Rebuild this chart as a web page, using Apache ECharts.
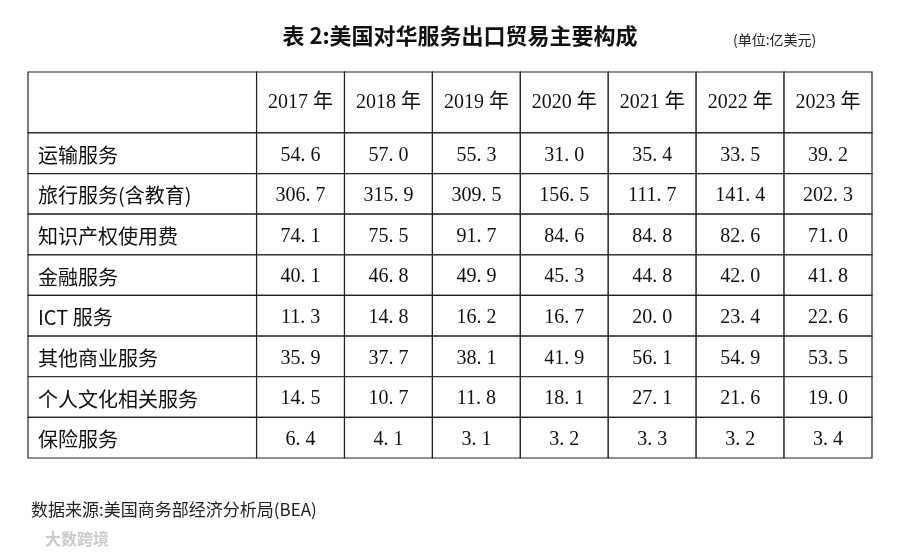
<!DOCTYPE html>
<html><head><meta charset="utf-8">
<script src="https://cdn.jsdelivr.net/npm/echarts@6/dist/echarts.min.js"></script>
<style>html,body{margin:0;padding:0;background:#fff}#c{width:900px;height:553px}</style>
</head><body><div id="c"></div>
<script>
const years = ['2017 年','2018 年','2019 年','2020 年','2021 年','2022 年','2023 年'];
const categories = ['运输服务','旅行服务(含教育)','知识产权使用费','金融服务','ICT 服务','其他商业服务','个人文化相关服务','保险服务'];
const v2017 = [54.6,306.7,74.1,40.1,11.3,35.9,14.5,6.4];
const v2018 = [57.0,315.9,75.5,46.8,14.8,37.7,10.7,4.1];
const v2019 = [55.3,309.5,91.7,49.9,16.2,38.1,11.8,3.1];
const v2020 = [31.0,156.5,84.6,45.3,16.7,41.9,18.1,3.2];
const v2021 = [35.4,111.7,84.8,44.8,20.0,56.1,27.1,3.3];
const v2022 = [33.5,141.4,82.6,42.0,23.4,54.9,21.6,3.2];
const v2023 = [39.2,202.3,71.0,41.8,22.6,53.5,19.0,3.4];
const seriesValues = [v2017,v2018,v2019,v2020,v2021,v2022,v2023];

const FIRST = 2.6, HEAD = 1.5;
const cells = [];
cells.push([0,0,'']);
years.forEach((y,i)=>cells.push([i+1,0,y]));
categories.forEach((c,r)=>{
  cells.push([0,r+1,c]);
  seriesValues.forEach((vals,i)=>cells.push([i+1,r+1,vals[r].toFixed(1).replace('.','. ')]));
});
const chart = echarts.init(document.getElementById('c'));
chart.setOption({
  animation:false,
  title:[
    {text:'表 2:美国对华服务出口贸易主要构成',left:455,top:20,textAlign:'center',
     textStyle:{fontFamily:'Noto Sans CJK SC',fontWeight:'bold',fontSize:22,color:'#111'}},
    {text:'(单位:亿美元)',left:728,top:28,textStyle:{fontFamily:'Noto Sans CJK SC',fontWeight:'normal',fontSize:14,color:'#222'}},
    {text:'数据来源:美国商务部经济分析局(BEA)',left:26,top:496,textStyle:{fontFamily:'Noto Sans CJK SC',fontWeight:'normal',fontSize:17,color:'#222'}},
    {text:'大数跨境',left:40,top:526,textStyle:{fontFamily:'Noto Sans CJK SC',fontWeight:'bold',fontSize:16,color:'#ccc'}}
  ],
  grid:{left:28,right:28,top:72,bottom:95},
  xAxis:{type:'value',min:0,max:FIRST+7,show:false},
  yAxis:{type:'value',min:0,max:HEAD+8,inverse:true,show:false},
  series:[{
    type:'custom',
    data:cells,
    renderItem:(params,api)=>{
      const col=api.value(0), row=api.value(1);
      const text=cells[params.dataIndex][2];
      const x0 = col===0?0:FIRST+col-1, x1 = col===0?FIRST:FIRST+col;
      const y0 = row===0?0:HEAD+row-1, y1 = row===0?HEAD:HEAD+row;
      const p0=api.coord([x0,y0]), p1=api.coord([x1,y1]);
      const isNum = col>0;
      return {type:'group',children:[
        {type:'rect',shape:{x:p0[0],y:p0[1],width:p1[0]-p0[0],height:p1[1]-p0[1]},
         style:{fill:'#fff',stroke:'#222',lineWidth:1.2}},
        {type:'text',style:{text:text,
          x: isNum?(p0[0]+p1[0])/2:p0[0]+10,
          y:(p0[1]+p1[1])/2 + (row===0?0:2),
          align: isNum?'center':'left',verticalAlign:'middle',
          fontSize:20,fill:'#111',
          fontFamily: isNum?'Liberation Serif, Noto Sans CJK SC':'Noto Sans CJK SC'}}
      ]};
    }
  }]
});
</script></body></html>
